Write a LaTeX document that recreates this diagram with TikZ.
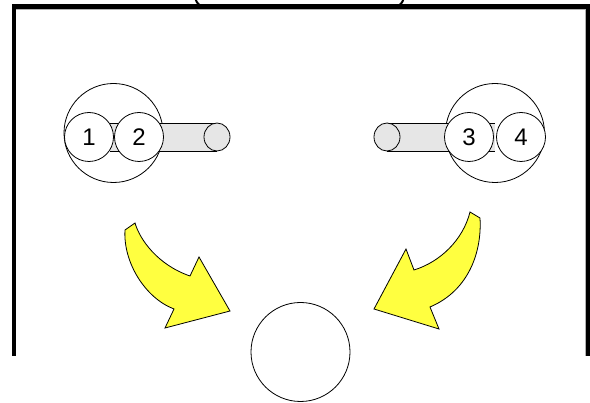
\documentclass[tikz,border=0pt]{standalone}
\usepackage{fontspec}
\setmainfont{Liberation Sans}
\definecolor{arrowyellow}{RGB}{255,255,64}
\definecolor{rodgray}{RGB}{230,230,230}
\tikzset{
  frame/.style={line width=4.5pt, line cap=butt},
  bigc/.style={circle, draw, line width=0.8pt, fill=white, minimum size=99pt, inner sep=0pt},
  smallc/.style={circle, draw, line width=0.8pt, fill=white, minimum size=49pt, inner sep=0pt, font=\fontsize{24}{28}\selectfont},
  rodline/.style={line width=0.8pt},
  bigarrow/.style={draw, line width=0.8pt, fill=arrowyellow, line join=miter},
}
\begin{document}
\begin{tikzpicture}[x=1pt,y=-1pt]
\useasboundingbox (0,0) rectangle (590,403);
\fill[white] (0,0) rectangle (590,403);
% frame
\draw[gray!60, line width=0.6pt] (16,9.1) -- (585.4,9.1) -- (585.4,356);
\draw[frame] (14,356) -- (14,6.5) -- (588,6.5) -- (588,356);
\draw[line width=2pt] (195.5,-1) .. controls (196.5,2) .. (199.5,5);
\draw[line width=2pt] (403.5,-1) .. controls (402.5,2) .. (399.5,5);
% left assembly
\node[bigc] (L) at (113.5,133) {};
\fill[rodgray] (110,123) rectangle (217,151);
\draw[rodline] (110,123) -- (217,123);
\draw[rodline] (110,151) -- (217,151);
\draw[rodline, fill=rodgray] (217,137) ellipse [x radius=13, y radius=14];
\node[smallc] (c1) at (89,137) {1};
\node[smallc] (c2) at (139,137) {2};
% right assembly
\node[bigc] (R) at (495,133) {};
\fill[rodgray] (387,123) rectangle (495,151);
\draw[rodline] (387,123) -- (495,123);
\draw[rodline] (387,151) -- (495,151);
\draw[rodline, fill=rodgray] (387,137) ellipse [x radius=13, y radius=14];
\node[smallc] (c3) at (469,137) {3};
\node[smallc] (c4) at (521,137) {4};
% bottom circle
\node[bigc] (B) at (300.5,352) {};
% arrows
\draw[bigarrow] (125,230) -- (135,223) .. controls (140,240) and (158,265) .. (190,276)
  -- (199,257) -- (230,311) -- (165,328) -- (174,309)
  .. controls (145,298) and (123,262) .. (125,230) -- cycle;
\draw[bigarrow] (470,212) -- (480,218) .. controls (482,250) and (470,290) .. (430,307)
  -- (439,329) -- (374,309) -- (406,249) -- (414,270)
  .. controls (440,262) and (463,240) .. (470,212) -- cycle;
\end{tikzpicture}
\end{document}
